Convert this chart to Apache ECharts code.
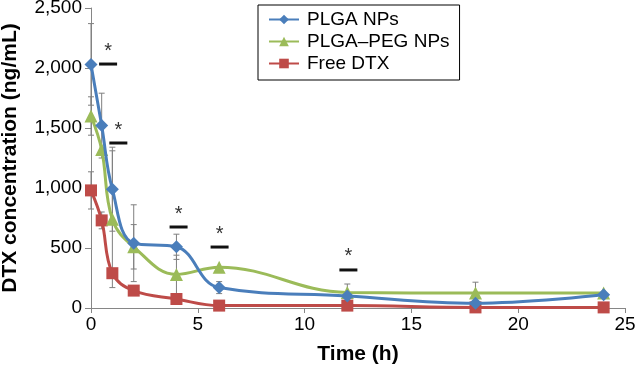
<!DOCTYPE html>
<html>
<head>
<meta charset="utf-8">
<script src="https://cdn.jsdelivr.net/npm/echarts@6/dist/echarts.min.js"></script>
<style>
  html, body { margin: 0; padding: 0; background: #fff; }
  #chart { width: 636px; height: 369px; }
</style>
</head>
<body>
<div id="chart"></div>
<script>
// sampling times (h)
var times = [0, 0.5, 1, 2, 4, 6, 12, 18, 24];

// mean concentrations (ng/mL)
var plgaNPs    = [2030, 1520, 990, 540, 510, 170, 100, 40, 110];
var plgaPegNPs = [1600, 1320, 740, 510, 280, 340, 130, 125, 125];
var freeDTX    = [980, 730, 290, 145, 75, 20, 20, 5, 5];

// error bars (SD), same order as times
var plgaErr    = [340, 270, 350, 320, 105, 50, 0, 0, 0];
var plgaPegErr = [160, 0, 570, 185, 160, 0, 70, 90, 0];
var freeErr    = [155, 70, 0, 0, 0, 0, 0, 0, 0];

// significance marks: [time, concentration]
var sigMarks = [[0.8, 2033], [1.28, 1375], [4.1, 675], [6.02, 508], [12.05, 317]];

var yTicks = [0, 500, 1000, 1500, 2000, 2500];

var seriesNames = ['PLGA NPs', 'PLGA\u2013PEG NPs', 'Free DTX'];
var colors = ['#4a7ebb', '#9bbb59', '#be4b48'];

function pairs(vals) {
  var out = [];
  for (var i = 0; i < times.length; i++) out.push([times[i], vals[i]]);
  return out;
}
function errData(vals, errs) {
  var out = [];
  for (var i = 0; i < times.length; i++) {
    if (errs[i] > 0) out.push([times[i], vals[i], errs[i]]);
  }
  return out;
}

function renderErr(params, api) {
  var x = api.value(0), v = api.value(1), e = api.value(2);
  var top = api.coord([x, v + e]);
  var bot = api.coord([x, v - e]);
  var st = { stroke: '#7f7f7f', lineWidth: 1 };
  return {
    type: 'group',
    children: [
      { type: 'line', shape: { x1: top[0], y1: top[1], x2: bot[0], y2: bot[1] }, style: st },
      { type: 'line', shape: { x1: top[0] - 3, y1: top[1], x2: top[0] + 3, y2: top[1] }, style: st },
      { type: 'line', shape: { x1: bot[0] - 3, y1: bot[1], x2: bot[0] + 3, y2: bot[1] }, style: st }
    ]
  };
}

function renderSig(params, api) {
  var p = api.coord([api.value(0), api.value(1)]);
  return {
    type: 'group',
    children: [
      { type: 'line', shape: { x1: p[0] - 9, y1: p[1], x2: p[0] + 9, y2: p[1] },
        style: { stroke: '#111', lineWidth: 3 } },
      { type: 'text', x: p[0], y: p[1] - 3,
        style: { text: '*', fill: '#333', font: '20px "Liberation Sans", Arial, sans-serif',
                 align: 'center', verticalAlign: 'bottom' } }
    ]
  };
}

var font = '"Liberation Sans", Arial, sans-serif';

var option = {
  animation: false,
  grid: { left: 91, right: 11, top: 8, bottom: 61, containLabel: false, outerBoundsMode: 'none' },
  legend: {
    data: seriesNames,
    orient: 'vertical',
    left: 258,
    top: 5,
    padding: [5, 10, 7, 10],
    borderColor: '#000',
    borderWidth: 1,
    itemWidth: 30,
    itemHeight: 12,
    itemGap: 3,
    textStyle: { fontFamily: font, fontSize: 19, color: '#000', padding: [0, 0, 0, 3] }
  },
  xAxis: {
    type: 'value',
    min: 0, max: 25, interval: 5,
    name: 'Time (h)',
    nameLocation: 'middle',
    nameGap: 36,
    nameTextStyle: { fontFamily: font, fontSize: 21, fontWeight: 'bold', color: '#000' },
    axisLine: { lineStyle: { color: '#868686' } },
    axisTick: { show: true, length: 5, lineStyle: { color: '#868686' } },
    axisLabel: { margin: 7, fontFamily: font, fontSize: 19, color: '#000' },
    splitLine: { show: false }
  },
  yAxis: {
    type: 'value',
    min: yTicks[0], max: yTicks[yTicks.length - 1], interval: 500,
    name: 'DTX concentration (ng/mL)',
    nameLocation: 'middle',
    nameGap: 70,
    nameTextStyle: { fontFamily: font, fontSize: 21, fontWeight: 'bold', color: '#000' },
    axisLine: { show: true, lineStyle: { color: '#868686' } },
    axisTick: { show: true, length: 6, lineStyle: { color: '#868686' } },
    axisLabel: {
      margin: 9, fontFamily: font, fontSize: 19, color: '#000',
      formatter: function (v) { return v.toLocaleString('en-US'); }
    },
    splitLine: { show: false }
  },
  series: [
    { type: 'custom', renderItem: renderErr, data: errData(plgaNPs, plgaErr), z: 1, silent: true },
    { type: 'custom', renderItem: renderErr, data: errData(plgaPegNPs, plgaPegErr), z: 1, silent: true },
    { type: 'custom', renderItem: renderErr, data: errData(freeDTX, freeErr), z: 1, silent: true },
    {
      name: seriesNames[2], type: 'line', data: pairs(freeDTX), smooth: 0.4,
      symbol: 'rect', symbolSize: 12, color: colors[2],
      lineStyle: { width: 3 }, itemStyle: { color: colors[2] }, z: 3
    },
    {
      name: seriesNames[1], type: 'line', data: pairs(plgaPegNPs), smooth: 0.4,
      symbol: 'triangle', symbolSize: 13, color: colors[1],
      lineStyle: { width: 3 }, itemStyle: { color: colors[1] }, z: 4
    },
    {
      name: seriesNames[0], type: 'line', data: pairs(plgaNPs), smooth: 0.4,
      symbol: 'diamond', symbolSize: 13, color: colors[0],
      lineStyle: { width: 3 }, itemStyle: { color: colors[0] }, z: 5
    },
    { type: 'custom', renderItem: renderSig, data: sigMarks, z: 6, silent: true }
  ]
};

var chart = echarts.init(document.getElementById('chart'));
chart.setOption(option);
</script>
</body>
</html>
